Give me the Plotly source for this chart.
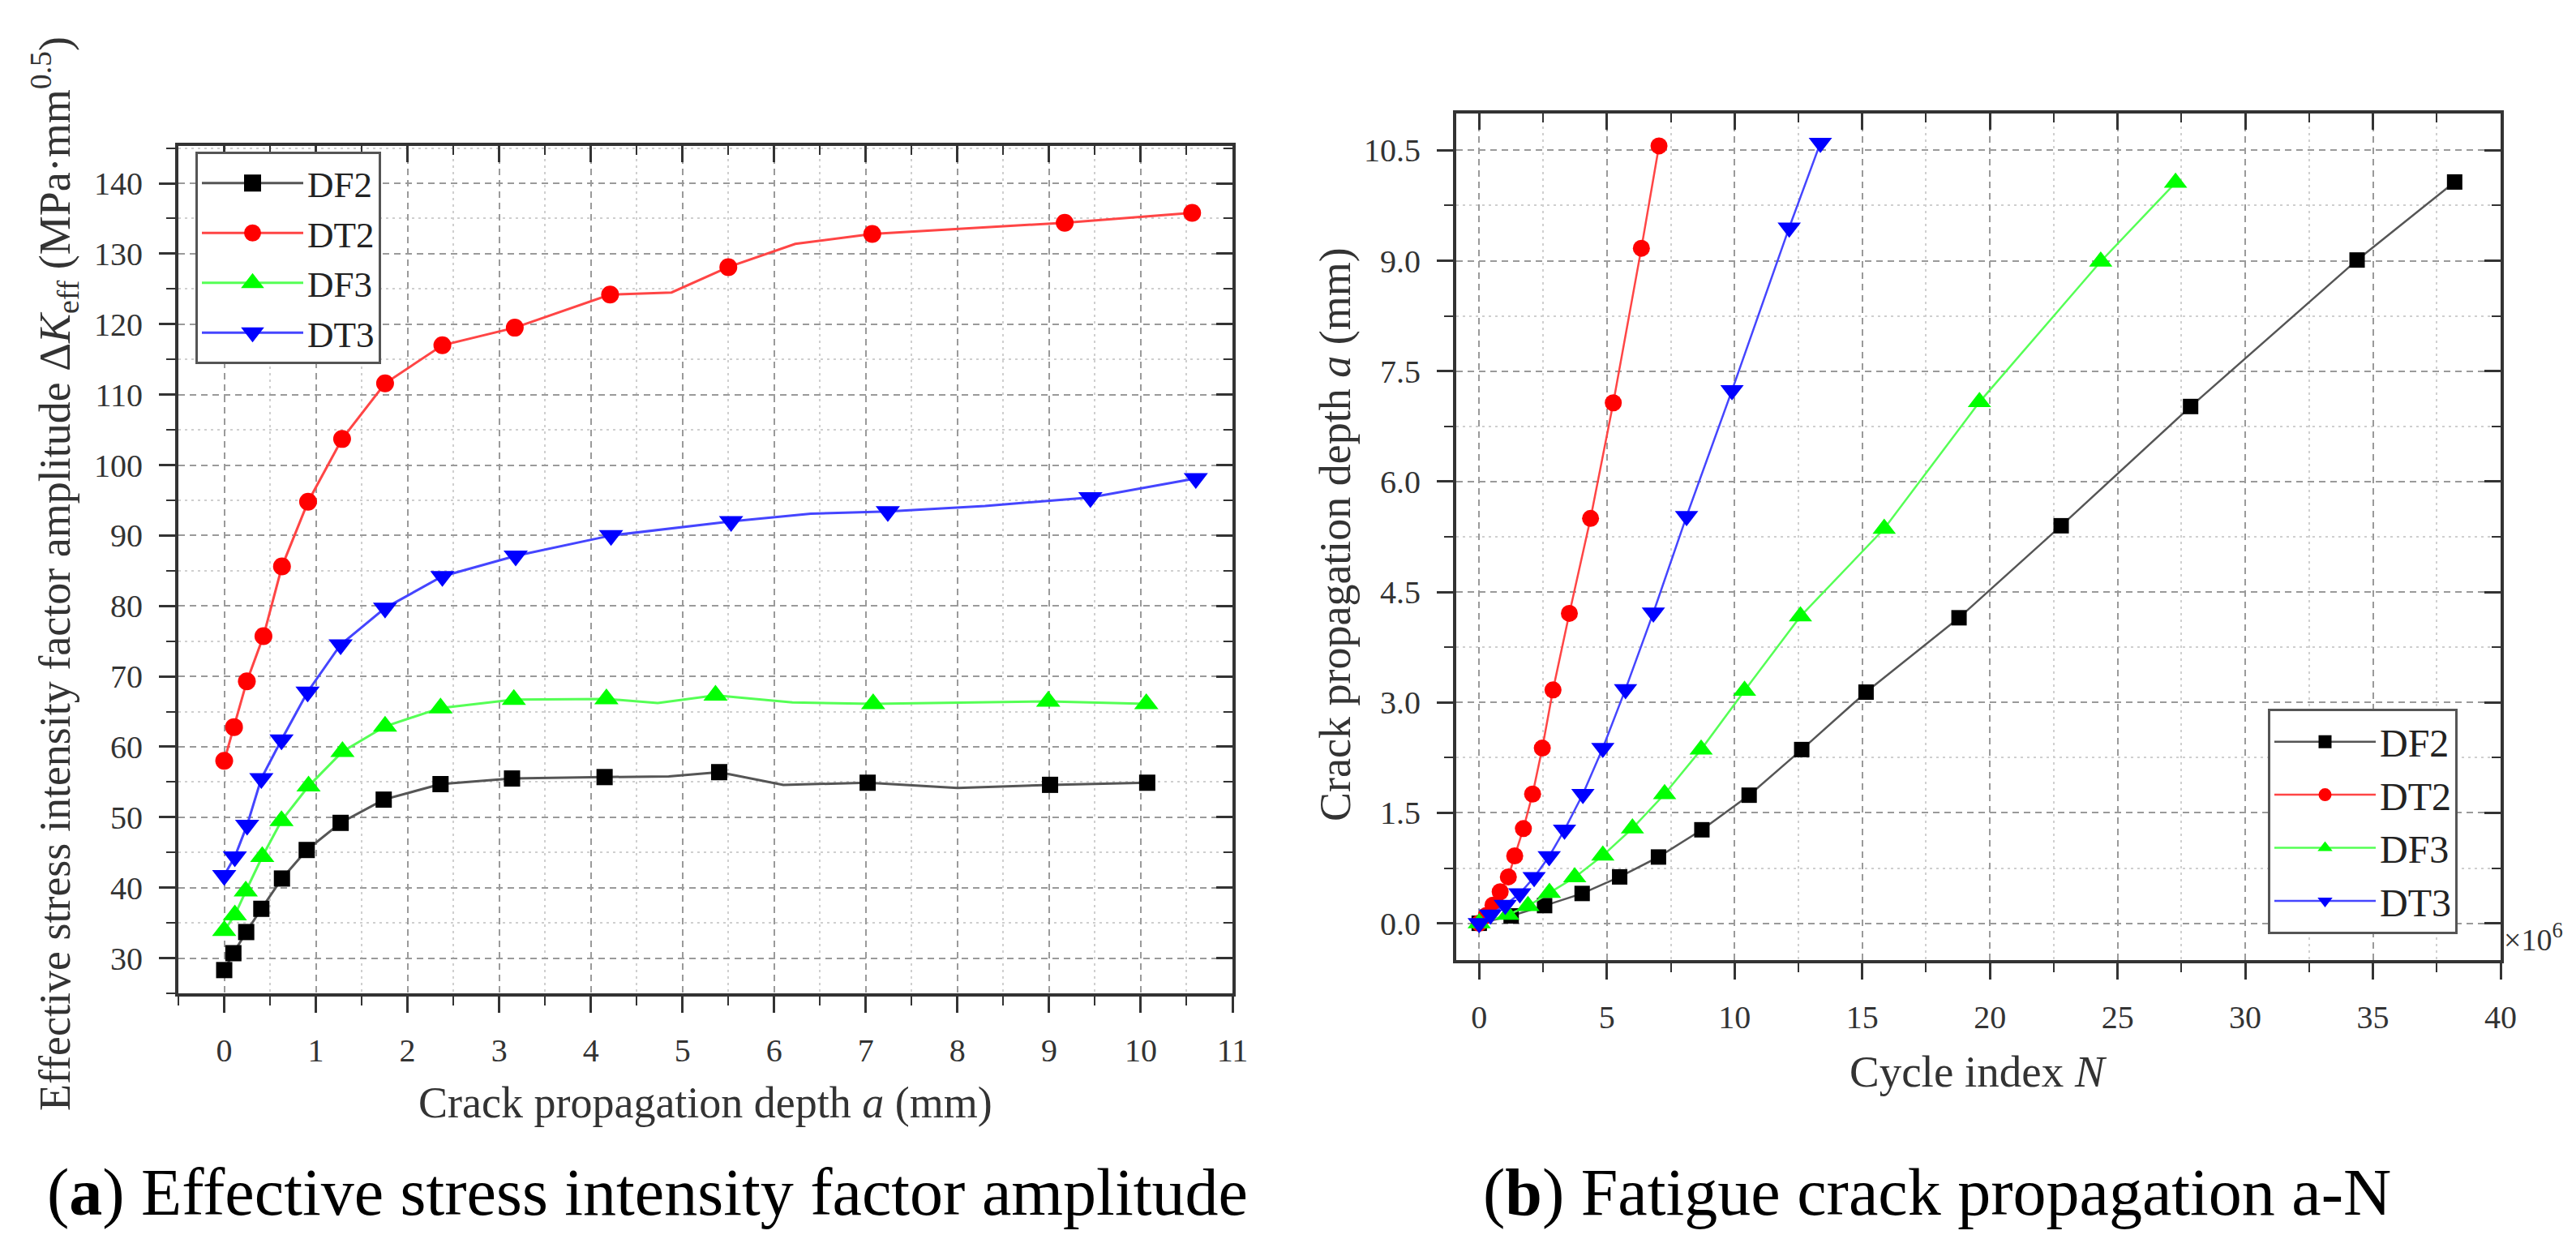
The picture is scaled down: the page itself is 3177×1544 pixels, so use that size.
import plotly.graph_objects as go

# ---- data ----
series = ['DF2', 'DT2', 'DF3', 'DT3']

# crack depth a (mm), shared by both panels
depth_DF2 = [0, 0.10, 0.24, 0.405, 0.63, 0.90, 1.27, 1.74, 2.36, 3.14, 4.15, 5.40, 7.02, 9.01, 10.07]
depth_DT2 = [0, 0.107, 0.247, 0.428, 0.63, 0.915, 1.286, 1.755, 2.38, 3.17, 4.21, 5.50, 7.07, 9.17, 10.56]
depth_DF3 = [0, 0.116, 0.235, 0.415, 0.625, 0.92, 1.29, 1.755, 2.36, 3.16, 4.17, 5.36, 7.08, 8.99, 10.06]
depth_DT3 = [0, 0.116, 0.25, 0.405, 0.625, 0.91, 1.27, 1.755, 2.38, 3.18, 4.22, 5.53, 7.24, 9.45, 10.6]

# effective stress intensity factor amplitude (MPa mm^0.5)
K_DF2 = [28.3, 30.7, 33.7, 37.0, 41.3, 45.35, 49.2, 52.5, 54.7, 55.5, 55.7, 56.4, 54.9, 54.6, 54.9]
K_DT2 = [58.0, 62.8, 69.3, 75.7, 85.6, 94.8, 103.7, 111.6, 117.0, 119.5, 124.2, 128.1, 132.8, 134.4, 135.8]
K_DF3 = [33.9, 36.1, 39.5, 44.4, 49.5, 54.4, 59.3, 62.9, 65.5, 66.7, 66.8, 67.3, 66.1, 66.45, 66.1]
K_DT3 = [41.75, 44.4, 48.9, 55.5, 61.0, 67.8, 74.5, 79.7, 84.2, 87.1, 90.0, 92.0, 93.4, 95.4, 98.1]

# extra bends of the connecting lines (no marker drawn there)
kink_depth_DF2 = [4.85, 6.10, 8.00]
kink_K_DF2 = [55.8, 54.6, 54.15]
kink_depth_DT2 = [4.88, 6.23]
kink_K_DT2 = [124.5, 131.4]
kink_depth_DF3 = [4.73, 6.20]
kink_K_DF3 = [66.2, 66.3]
kink_depth_DT3 = [6.40, 8.30]
kink_K_DT3 = [93.1, 94.2]

# cycle index N (x 10^6)
N_DF2 = [0, 1.25, 2.56, 4.03, 5.50, 7.02, 8.72, 10.57, 12.63, 15.15, 18.79, 22.79, 27.86, 34.38, 38.2]
N_DT2 = [0, 0.28, 0.54, 0.82, 1.14, 1.39, 1.73, 2.09, 2.47, 2.89, 3.53, 4.36, 5.25, 6.35, 7.04]
N_DF3 = [0, 1.12, 1.91, 2.75, 3.74, 4.84, 6.00, 7.26, 8.69, 10.39, 12.58, 15.86, 19.59, 24.34, 27.27]
N_DT3 = [0, 0.44, 1.02, 1.59, 2.15, 2.74, 3.34, 4.06, 4.84, 5.73, 6.82, 8.12, 9.90, 12.14, 13.36]

depths = [depth_DF2, depth_DT2, depth_DF3, depth_DT3]
Ks = [K_DF2, K_DT2, K_DF3, K_DT3]
kink_depths = [kink_depth_DF2, kink_depth_DT2, kink_depth_DF3, kink_depth_DT3]
kink_Ks = [kink_K_DF2, kink_K_DT2, kink_K_DF3, kink_K_DT3]
Ns = [N_DF2, N_DT2, N_DF3, N_DT3]

# ---- styles ----
marker_colors = ['#000000', '#ff0000', '#00ff00', '#0000ff']
line_colors = ['#555555', '#ff4545', '#55ff55', '#4545ff']
symbols = ['square', 'circle', 'triangle-up', 'triangle-down']
sizes = [20, 22, 26, 26]

W, H = 3177, 1544
SERIF = 'Liberation Serif'
AXC = '#333333'

fig = go.Figure()

for i, name in enumerate(series):
    # line with all vertices
    pts = sorted(zip(depths[i] + kink_depths[i], Ks[i] + kink_Ks[i]))
    fig.add_trace(go.Scatter(
        x=[p[0] for p in pts], y=[p[1] for p in pts], mode='lines',
        line=dict(color=line_colors[i], width=3), showlegend=False,
        hoverinfo='skip', xaxis='x', yaxis='y'))
    fig.add_trace(go.Scatter(
        x=depths[i], y=Ks[i], mode='markers', showlegend=False,
        marker=dict(symbol=symbols[i], size=sizes[i], color=marker_colors[i], line=dict(width=0)),
        xaxis='x', yaxis='y'))
    # legend entry of panel (a); legend markers are capped at 16 px, the outline makes them bigger
    fig.add_trace(go.Scatter(
        x=[None], y=[None], mode='lines+markers', name=name, legend='legend',
        line=dict(color=line_colors[i], width=3),
        marker=dict(symbol=symbols[i], size=16, color=marker_colors[i],
                    line=dict(width=5, color=marker_colors[i])),
        xaxis='x', yaxis='y'))
    # panel (b)
    fig.add_trace(go.Scatter(
        x=Ns[i], y=depths[i], mode='lines+markers', name=name, legend='legend2',
        line=dict(color=line_colors[i], width=2.5),
        marker=dict(symbol=symbols[i], size=sizes[i] - 1, color=marker_colors[i],
                    line=dict(width=0, color=marker_colors[i])),
        xaxis='x2', yaxis='y2'))

# empty traces so the mirrored frame axes get drawn
fig.add_trace(go.Scatter(x=[None], y=[None], xaxis='x3', yaxis='y3', showlegend=False, hoverinfo='skip'))
fig.add_trace(go.Scatter(x=[None], y=[None], xaxis='x4', yaxis='y4', showlegend=False, hoverinfo='skip'))


def base_axis(rng, dtick, mdtick, domain, anchor, fmt=None):
    ax = dict(
        domain=domain, anchor=anchor, range=rng, tick0=0, dtick=dtick,
        ticks='outside', ticklen=20, tickwidth=3, tickcolor=AXC,
        showline=True, linewidth=4, linecolor=AXC, zeroline=False,
        showgrid=True, gridcolor='#9a9a9a', gridwidth=2, griddash='8px,6px',
        tickfont=dict(family=SERIF, size=40, color=AXC), ticklabelstandoff=12,
        minor=dict(dtick=mdtick, ticks='outside', ticklen=11, tickwidth=2, tickcolor=AXC,
                   showgrid=True, gridcolor='#cfcfcf', gridwidth=2, griddash='3px,5px'),
    )
    if fmt:
        ax['tickformat'] = fmt
    return ax


def mirror_axis(rng, dtick, mdtick, overlay, anchor, side):
    return dict(
        overlaying=overlay, anchor=anchor, side=side, range=rng, tick0=0, dtick=dtick,
        ticks='inside', ticklen=20, tickwidth=3, tickcolor=AXC, showticklabels=False,
        showline=True, linewidth=4, linecolor=AXC, zeroline=False, showgrid=False,
        minor=dict(dtick=mdtick, ticks='inside', ticklen=11, tickwidth=2, tickcolor=AXC, showgrid=False),
    )


xa_dom = [212 / W, 1512 / W]
ya_dom = [1 - 1217 / H, 1 - 172 / H]
xb_dom = [1788 / W, 3076 / W]
yb_dom = [1 - 1176 / H, 1 - 132 / H]

xa_rng, ya_rng = [-0.5, 11], [25, 145.3]
xb_rng, yb_rng = [-0.9, 40], [-0.5, 11]

legend_style = dict(bgcolor='white', bordercolor='#555555', borderwidth=3,
                    itemwidth=125, xanchor='left', yanchor='top', tracegroupgap=0)


def cap(text, x, y, size=82):
    return dict(text=text, x=x, y=y, xref='paper', yref='paper', showarrow=False,
                xanchor='center', yanchor='middle', font=dict(family=SERIF, size=size, color='#000'))


def title(text, x, y, angle=0, size=54):
    return dict(text=text, x=x, y=y, xref='paper', yref='paper', showarrow=False,
                xanchor='center', yanchor='middle', textangle=angle,
                font=dict(family=SERIF, size=size, color=AXC))


fig.update_layout(
    width=W, height=H, margin=dict(l=0, r=0, t=0, b=0),
    template='none', paper_bgcolor='white', plot_bgcolor='white',
    font=dict(family=SERIF, color=AXC),
    xaxis=base_axis(xa_rng, 1, 0.5, xa_dom, 'y'),
    yaxis=base_axis(ya_rng, 10, 5, ya_dom, 'x'),
    xaxis3=mirror_axis(xa_rng, 1, 0.5, 'x', 'y3', 'top'),
    yaxis3=mirror_axis(ya_rng, 10, 5, 'y', 'x3', 'right'),
    xaxis2=base_axis(xb_rng, 5, 2.5, xb_dom, 'y2'),
    yaxis2=base_axis(yb_rng, 1.5, 0.75, yb_dom, 'x2', fmt='.1f'),
    xaxis4=mirror_axis(xb_rng, 5, 2.5, 'x2', 'y4', 'top'),
    yaxis4=mirror_axis(yb_rng, 1.5, 0.75, 'y2', 'x4', 'right'),
    legend=dict(x=233 / W, y=1 - 179 / H, font=dict(family=SERIF, size=45, color='#222'), **legend_style),
    legend2=dict(x=2789 / W, y=1 - 866 / H, font=dict(family=SERIF, size=48, color='#222'), **legend_style),
    annotations=[
        title('Effective stress intensity factor amplitude Δ<i>K</i><sub>eff</sub> (MPa·mm<sup>0.5</sup>)',
              59 / W, 1 - 700 / H, -90, size=54),
        title('Crack propagation depth <i>a</i> (mm)', 862 / W, 1 - 1352 / H),
        title('Crack propagation depth <i>a</i> (mm)', 1639 / W, 1 - 651 / H, -90),
        title('Cycle index <i>N</i>', 2432 / W, 1 - 1313 / H, size=55),
        dict(text='×10<sup>6</sup>', x=3078 / W, y=1 - 1148 / H, xref='paper', yref='paper',
             showarrow=False, xanchor='left', yanchor='middle',
             font=dict(family=SERIF, size=38, color=AXC)),
        cap('(<b>a</b>) Effective stress intensity factor amplitude', 790 / W, 1 - 1462 / H),
        cap('(<b>b</b>) Fatigue crack propagation a-N', 2381 / W, 1 - 1462 / H),
    ],
)

fig.write_html('out.html')
